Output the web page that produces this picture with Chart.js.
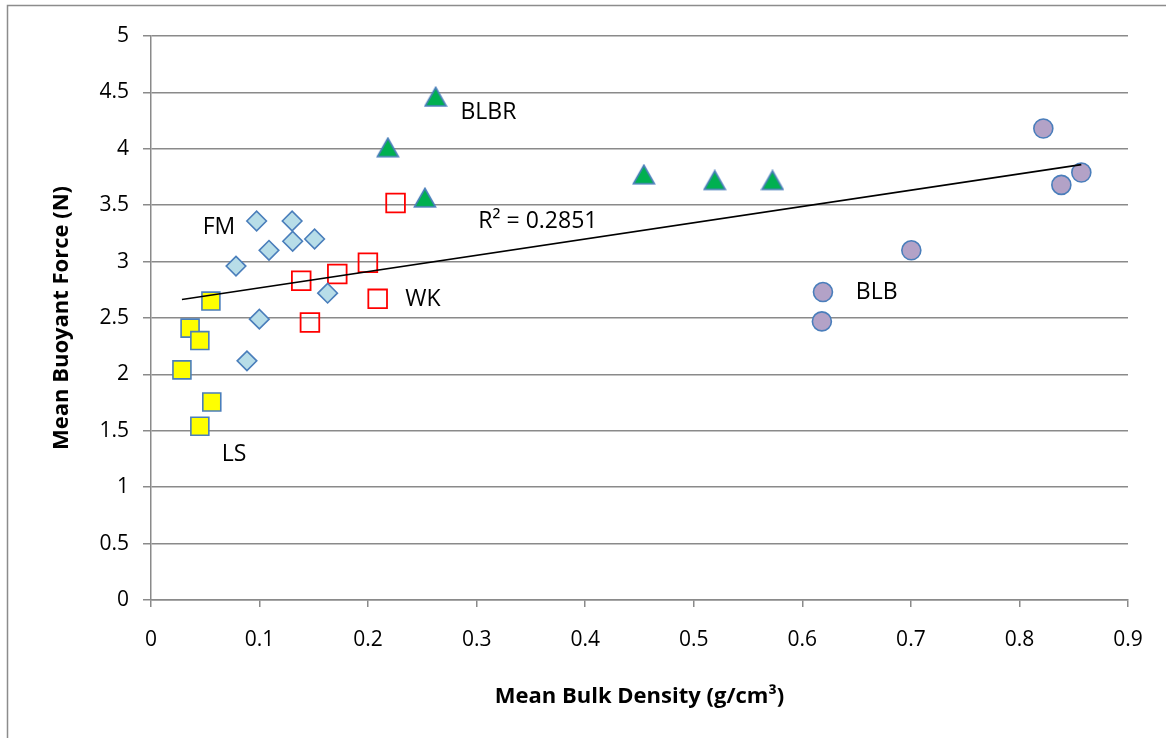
<!DOCTYPE html>
<html>
<head>
<meta charset="utf-8">
<script src="https://cdn.jsdelivr.net/npm/chart.js@4/dist/chart.umd.min.js"></script>
<style>
  html, body { margin: 0; padding: 0; background: #fff; overflow: hidden; }
  #chart { position: absolute; left: 0; top: 0; }
</style>
</head>
<body>
<canvas id="chart" width="1166" height="738"></canvas>
<script>
// values
const lsX   = [0.0552, 0.036, 0.045, 0.0285, 0.056, 0.045];
const lsY   = [2.65, 2.41, 2.30, 2.04, 1.755, 1.54];
const fmX   = [0.0973, 0.130, 0.1087, 0.1305, 0.1507, 0.0783, 0.1627, 0.0998, 0.0884];
const fmY   = [3.36, 3.36, 3.10, 3.18, 3.20, 2.96, 2.72, 2.49, 2.12];
const wkX   = [0.2253, 0.1384, 0.1716, 0.1998, 0.2088, 0.1464];
const wkY   = [3.52, 2.83, 2.89, 2.99, 2.67, 2.46];
const blbrX = [0.2622, 0.2182, 0.2523, 0.454, 0.5193, 0.5725];
const blbrY = [4.46, 4.01, 3.565, 3.77, 3.72, 3.72];
const blbX  = [0.822, 0.857, 0.8386, 0.7004, 0.619, 0.618];
const blbY  = [4.18, 3.79, 3.68, 3.10, 2.73, 2.47];

const groupLabels = ["FM", "LS", "WK", "BLB", "BLBR", "R² = 0.2851"];
const groupLabelX = [0.0626, 0.0764, 0.2505, 0.6685, 0.3108, 0.3564];
const groupLabelY = [3.307, 1.294, 2.66, 2.73, 4.322, 3.36];

const pts = (xs, ys) => xs.map((x, i) => ({ x: x, y: ys[i] }));

// linear trendline through all points
const allX = [].concat(lsX, fmX, wkX, blbrX, blbX);
const allY = [].concat(lsY, fmY, wkY, blbrY, blbY);
const n = allX.length;
const mx = allX.reduce((a, b) => a + b, 0) / n;
const my = allY.reduce((a, b) => a + b, 0) / n;
let sxy = 0, sxx = 0;
allX.forEach((x, i) => { sxy += (x - mx) * (allY[i] - my); sxx += (x - mx) * (x - mx); });
const slope = sxy / sxx;
const icpt = my - slope * mx;
const xMin = Math.min(...allX), xMax = Math.max(...allX);
const trend = [{ x: xMin, y: icpt + slope * xMin }, { x: xMax, y: icpt + slope * xMax }];

// excel-like triangle marker, centred on its box
function triangleMarker() {
  const c = document.createElement("canvas");
  c.width = 24; c.height = 22;
  const g = c.getContext("2d");
  g.beginPath();
  g.moveTo(12, 1.5);
  g.lineTo(22.5, 20);
  g.lineTo(1.5, 20);
  g.closePath();
  g.fillStyle = "#00b050";
  g.fill();
  g.lineWidth = 1.6;
  g.strokeStyle = "#4a7ebb";
  g.stroke();
  return c;
}

const fontFam = "'Open Sans', 'DejaVu Sans', sans-serif";
const gridColor = "#8a8a8a";

const frame = {
  id: "frame",
  beforeDraw(chart) {
    const ctx = chart.ctx;
    ctx.save();
    ctx.strokeStyle = "#8c8c8c";
    ctx.lineWidth = 1.5;
    ctx.beginPath();
    ctx.moveTo(7.5, 740);
    ctx.lineTo(7.5, 5.5);
    ctx.lineTo(1170, 5.5);
    ctx.stroke();
    ctx.restore();
  }
};

const groupText = {
  id: "groupText",
  afterDatasetsDraw(chart) {
    const { ctx, scales: { x, y } } = chart;
    ctx.save();
    ctx.fillStyle = "#000";
    ctx.font = "23px " + fontFam;
    ctx.textAlign = "center";
    ctx.textBaseline = "middle";
    groupLabels.forEach((t, i) => {
      ctx.fillText(t, x.getPixelForValue(groupLabelX[i]), y.getPixelForValue(groupLabelY[i]));
    });
    ctx.restore();
  }
};

new Chart(document.getElementById("chart"), {
  type: "scatter",
  data: {
    datasets: [
      {
        label: "Trend", type: "line", data: trend, showLine: true,
        borderColor: "#000", borderWidth: 1.6, pointRadius: 0, fill: false
      },
      {
        label: "LS", data: pts(lsX, lsY), pointStyle: "rect", pointRadius: 12.7,
        backgroundColor: "#ffff00", borderColor: "#4a7ebb", borderWidth: 1.6
      },
      {
        label: "FM", data: pts(fmX, fmY), pointStyle: "rectRot", pointRadius: 9.8,
        backgroundColor: "#b7dde8", borderColor: "#4a7ebb", borderWidth: 1.6
      },
      {
        label: "WK", data: pts(wkX, wkY), pointStyle: "rect", pointRadius: 13.2,
        backgroundColor: "rgba(255,255,255,0)", borderColor: "#ff0000", borderWidth: 1.8
      },
      {
        label: "BLBR", data: pts(blbrX, blbrY), pointStyle: triangleMarker(), pointRadius: 11
      },
      {
        label: "BLB", data: pts(blbX, blbY), pointStyle: "circle", pointRadius: 9.5,
        backgroundColor: "#b3a2c7", borderColor: "#4a7ebb", borderWidth: 1.6
      }
    ]
  },
  options: {
    responsive: false,
    animation: false,
    events: [],
    devicePixelRatio: 1,
    layout: { padding: { left: 0, right: 38, top: 36, bottom: 0 } },
    plugins: { legend: { display: false }, tooltip: { enabled: false } },
    scales: {
      x: {
        type: "linear", min: 0, max: 0.9,
        afterFit: s => { s.height = 138; },
        ticks: {
          stepSize: 0.1, color: "#000", padding: 20,
          font: { family: fontFam, size: 21 },
          callback: v => String(Number(v.toFixed(1)))
        },
        grid: { drawOnChartArea: false, color: gridColor, lineWidth: 1.5, tickLength: 7 },
        border: { color: gridColor, width: 1.5 },
        title: {
          display: true, text: "Mean Bulk Density (g/cm³)", color: "#000",
          font: { family: fontFam, size: 22, weight: "bold" },
          padding: { top: 0, bottom: 28 }
        }
      },
      y: {
        type: "linear", min: 0, max: 5,
        afterFit: s => { s.width = 151; },
        ticks: {
          stepSize: 0.5, color: "#000", padding: 14,
          font: { family: fontFam, size: 21 },
          callback: v => String(Number(v.toFixed(1)))
        },
        grid: { color: gridColor, lineWidth: 1.5, tickLength: 8 },
        border: { color: gridColor, width: 1.5 },
        title: {
          display: true, text: "Mean Buoyant Force (N)", color: "#000",
          font: { family: fontFam, size: 22, weight: "bold" },
          padding: { top: 49, bottom: 0 }
        }
      }
    }
  },
  plugins: [frame, groupText]
});
</script>
</body>
</html>
